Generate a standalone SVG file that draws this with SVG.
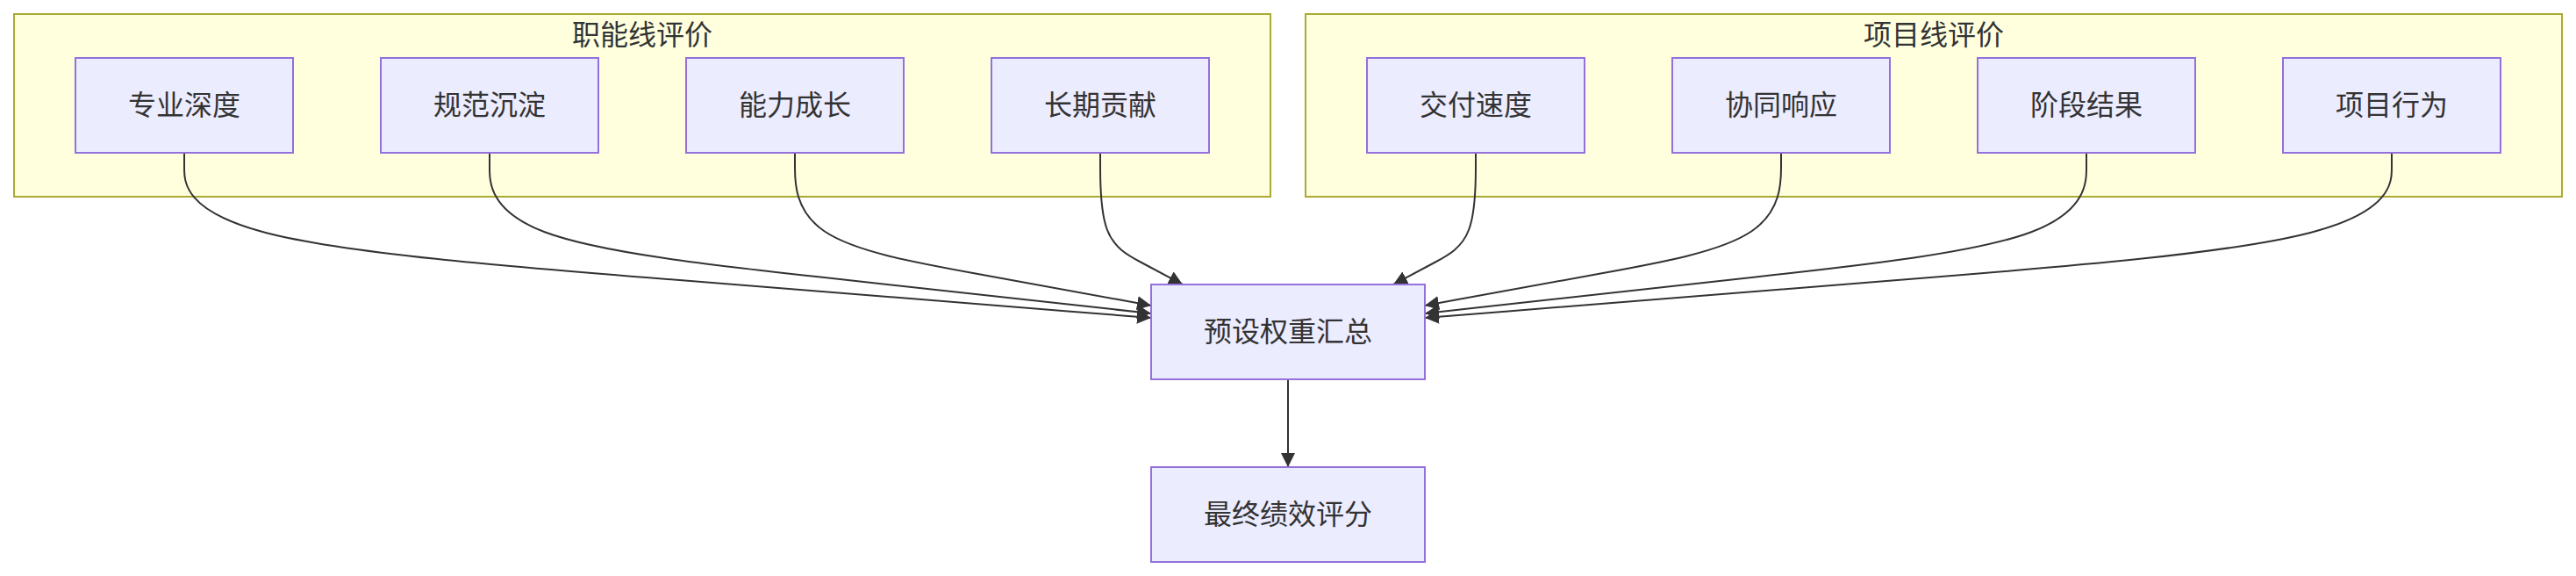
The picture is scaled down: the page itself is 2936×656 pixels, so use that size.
<svg xmlns="http://www.w3.org/2000/svg" width="2936" height="656" viewBox="0 0 2936 656">
<style>
  .cluster rect { fill: #ffffde; stroke: #aaaa33; stroke-width: 2; }
  .node rect { fill: #ececff; stroke: #9370db; stroke-width: 2; }
  text { font-family: "Noto Sans CJK SC", "Liberation Sans", sans-serif; font-size: 32px; fill: #333333; text-anchor: middle; }
  .edge { fill: none; stroke: #333333; stroke-width: 2; marker-end: url(#arrow); }
</style>
<defs>
  <marker id="arrow" viewBox="0 0 10 10" refX="10" refY="5" markerUnits="userSpaceOnUse" markerWidth="16" markerHeight="16" orient="auto">
    <path d="M0,0 L10,5 L0,10 z" fill="#333333"/>
  </marker>
</defs>
<rect width="2936" height="656" fill="#ffffff"/>
<g id="cluster-functional" class="cluster">
  <rect x="16" y="16" width="1432" height="208"/>
  <text x="732" y="51">职能线评价</text>
</g>
<g id="cluster-project" class="cluster">
  <rect x="1488" y="16" width="1432" height="208"/>
  <text x="2204" y="51">项目线评价</text>
</g>
<g id="connectors">
  <path class="edge" d="M210,174 L210,190.67 C210,207.33 210,240.67 301.83,264.67 C393.67,288.67 577.33,303.33 761,318 C944.67,332.67 1128.33,347.33 1220.17,354.67 L1312,362"/>
  <path class="edge" d="M558,174 L558,190.67 C558,207.33 558,240.67 620.83,264.25 C683.67,287.83 809.33,301.67 935,315.5 C1060.67,329.33 1186.33,343.17 1249.17,350.08 L1312,357"/>
  <path class="edge" d="M906,174 L906,190.67 C906,207.33 906,240.67 939.83,263.5 C973.67,286.33 1041.33,298.67 1109,311 C1176.67,323.33 1244.33,335.67 1278.17,341.83 L1312,348"/>
  <path class="edge" d="M1254,174 L1254,190.67 C1254,207.33 1254,240.67 1261.83,261.5 C1269.67,282.33 1285.33,290.67 1301,299 C1316.67,307.33 1332.33,315.67 1340.17,319.83 L1348,324"/>
  <path class="edge" d="M1682,174 L1682,190.67 C1682,207.33 1682,240.67 1674.17,261.5 C1666.33,282.33 1650.67,290.67 1635,299 C1619.33,307.33 1603.67,315.67 1595.83,319.83 L1588,324"/>
  <path class="edge" d="M2030,174 L2030,190.67 C2030,207.33 2030,240.67 1996.17,263.5 C1962.33,286.33 1894.67,298.67 1827,311 C1759.33,323.33 1691.67,335.67 1657.83,341.83 L1624,348"/>
  <path class="edge" d="M2378,174 L2378,190.67 C2378,207.33 2378,240.67 2315.17,264.25 C2252.33,287.83 2126.67,301.67 2001,315.5 C1875.33,329.33 1749.67,343.17 1686.83,350.08 L1624,357"/>
  <path class="edge" d="M2726,174 L2726,190.67 C2726,207.33 2726,240.67 2634.17,264.67 C2542.33,288.67 2358.67,303.33 2175,318 C1991.33,332.67 1807.67,347.33 1715.83,354.67 L1624,362"/>
  <path class="edge" d="M1468,432 L1468,532"/>
</g>
<g id="node-zhuanye" class="node">
  <rect x="86" y="66" width="248" height="108"/>
  <text x="210" y="131">专业深度</text>
</g>
<g id="node-guifan" class="node">
  <rect x="434" y="66" width="248" height="108"/>
  <text x="558" y="131">规范沉淀</text>
</g>
<g id="node-nengli" class="node">
  <rect x="782" y="66" width="248" height="108"/>
  <text x="906" y="131">能力成长</text>
</g>
<g id="node-changqi" class="node">
  <rect x="1130" y="66" width="248" height="108"/>
  <text x="1254" y="131">长期贡献</text>
</g>
<g id="node-jiaofu" class="node">
  <rect x="1558" y="66" width="248" height="108"/>
  <text x="1682" y="131">交付速度</text>
</g>
<g id="node-xietong" class="node">
  <rect x="1906" y="66" width="248" height="108"/>
  <text x="2030" y="131">协同响应</text>
</g>
<g id="node-jieduan" class="node">
  <rect x="2254" y="66" width="248" height="108"/>
  <text x="2378" y="131">阶段结果</text>
</g>
<g id="node-xiangmu" class="node">
  <rect x="2602" y="66" width="248" height="108"/>
  <text x="2726" y="131">项目行为</text>
</g>
<g id="node-huizong" class="node">
  <rect x="1312" y="324" width="312" height="108"/>
  <text x="1468" y="389">预设权重汇总</text>
</g>
<g id="node-zuizhong" class="node">
  <rect x="1312" y="532" width="312" height="108"/>
  <text x="1468" y="597">最终绩效评分</text>
</g>
</svg>
